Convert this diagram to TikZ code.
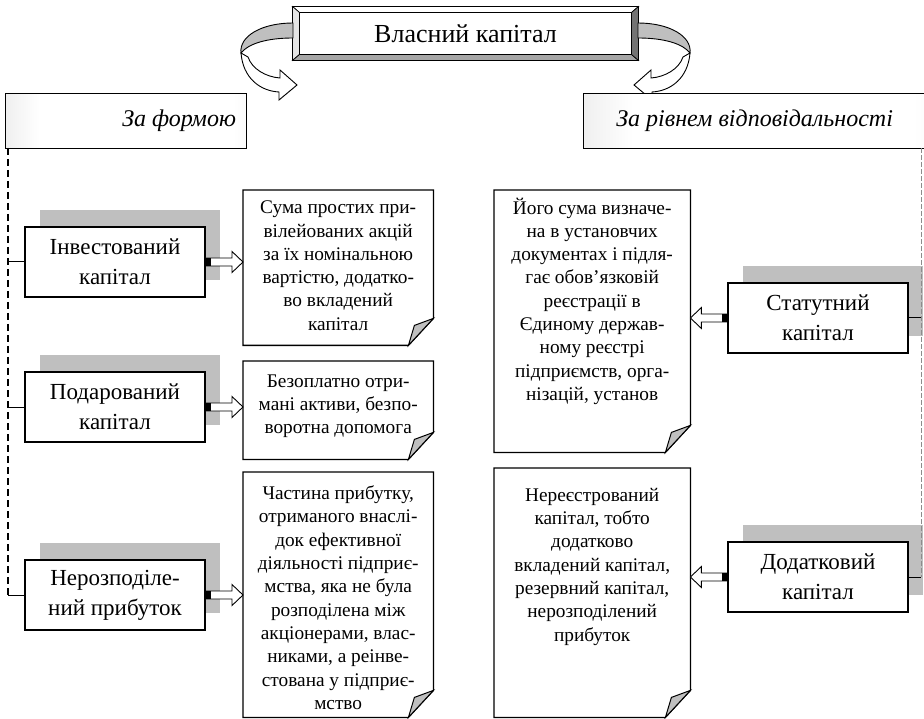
\documentclass[tikz,border=0pt]{standalone}
\usepackage{fontspec}
\setmainfont{Liberation Serif}
\usetikzlibrary{calc,shadows,positioning}
\pgfdeclarehorizontalshading{hdrshade}{100bp}{color(0bp)=(black!28); color(32bp)=(white); color(72bp)=(white); color(100bp)=(black!14)}
\tikzset{
  kbox/.style={draw, line width=1.2pt, fill=white, minimum width=180pt, minimum height=70pt, inner sep=2pt, align=center, font=\fontsize{23}{30}\selectfont},
  shd/.style={kbox, drop shadow={shadow xshift=15pt, shadow yshift=17pt, fill=black!25, opacity=1}},
  hdr/.style={draw, line width=1.2pt, minimum height=55pt, inner sep=0pt, anchor=north west, shading=hdrshade},
  hdrtxt/.style={font=\fontsize{24}{27}\selectfont\itshape},
  notebox/.style={minimum width=196pt, inner sep=0pt, anchor=north west},
  notetxt/.style={align=center, inner sep=0pt, font=\fontsize{19.3}{23.3}\selectfont},
  stub/.style={line width=1pt},
  dsh/.style={line width=1.8pt, dash pattern=on 7pt off 4pt},
  bkarrow/.style={draw, line width=0.9pt, fill=white, to path={
    let \p1=(\tikztostart), \p2=(\tikztotarget), \n1={sign(\x2-\x1)}, \n2={\n1*11} in
    (\x1,{\y1+4pt}) -- ({\x2-\n2},{\y1+4pt}) -- ({\x2-\n2},{\y1+10.5pt}) -- (\x2,\y1)
    -- ({\x2-\n2},{\y1-10.5pt}) -- ({\x2-\n2},{\y1-4pt}) -- (\x1,{\y1-4pt}) -- cycle
    (\x1,\y1) node[fill=black, inner sep=0pt, minimum width=5pt, minimum height=8pt, xshift={\n1*2.5}] {}}},
}
% note frame with folded corner
\newcommand\foldnote[1]{%
  \draw[line width=1.3pt] (#1.north west) -- (#1.north east) -- ([yshift=27pt]#1.south east) -- ([xshift=-25pt]#1.south east) -- (#1.south west) -- cycle;
  \draw[line width=1pt, fill=black!25] ([xshift=-25pt]#1.south east) -- ([xshift=-19pt,yshift=20pt]#1.south east) -- ([yshift=27pt]#1.south east) -- cycle;}

\begin{document}
\begin{tikzpicture}[x=1pt,y=-1pt]
  \useasboundingbox (0,0) rectangle (924,719);

  % title with bevel
  \node[draw, line width=0.9pt, fill=white, minimum width=345pt, minimum height=53pt, font=\fontsize{26}{28}\selectfont] (own) at (465.5,33.5) {Власний капітал};
  \filldraw[line width=0.7pt, fill=white] (own.north west) -- (own.north east) -- ([shift={(-7pt,-6pt)}]own.north east) -- ([shift={(7pt,-6pt)}]own.north west) -- cycle;
  \filldraw[line width=0.7pt, fill=black!10] (own.north west) -- ([shift={(7pt,-6pt)}]own.north west) -- ([shift={(7pt,6pt)}]own.south west) -- (own.south west) -- cycle;
  \filldraw[line width=0.7pt, fill=black!35] (own.south west) -- ([shift={(7pt,6pt)}]own.south west) -- ([shift={(-7pt,6pt)}]own.south east) -- (own.south east) -- cycle;
  \filldraw[line width=0.7pt, fill=black!55] (own.north east) -- ([shift={(-7pt,-6pt)}]own.north east) -- ([shift={(-7pt,6pt)}]own.south east) -- (own.south east) -- cycle;

  % curved arrows
  \foreach \s in {1,-1} {
    \begin{scope}[shift={(465.5,0)}, xscale=\s, line width=0.9pt]
      \filldraw[fill=black!25] (-172.5,23) .. controls (-203.5,23) and (-226.5,36) .. (-224.5,53)
        .. controls (-217.5,44) and (-199.5,38) .. (-172.5,38) -- cycle;
      \filldraw[fill=white] (-224.5,53) .. controls (-222.5,78) and (-205.5,91) .. (-186.5,92)
        -- (-186.5,100) -- (-168.5,85) -- (-185.5,70) -- (-185.5,78)
        .. controls (-199.5,77) and (-213.5,69) .. (-217.5,57) -- cycle;
    \end{scope}
  }

  % headers
  \node[hdr, minimum width=241pt] (form) at (5,93) {};
  \node[hdrtxt] (tForm) at ([xshift=53pt]form.center) {За формою};
  \node[hdr, minimum width=350pt] (resp) at (583,93) {};
  \node[hdrtxt] (tResp) at ([xshift=-4pt]resp.center) {За рівнем відповідальності};

  % left column
  \node[shd] (inv) at (115,262) {Інвестований\\капітал};
  \node[shd] (pod) at (115,407) {Подарований\\капітал};
  \node[shd] (ner) at (115,595) {Нерозподіле-\\ний прибуток};

  % right column
  \node[shd] (stat) at (818,318) {Статутний\\капітал};
  \node[shd] (dod) at (818,577) {Додатковий\\капітал};

  % notes
  \node[notebox, minimum width=190pt, minimum height=155pt] (nInv) at (243,190) {};
  \node[notebox, minimum width=190pt, minimum height=98pt] (nPod) at (243,361) {};
  \node[notebox, minimum width=190pt, minimum height=245pt] (nNer) at (243,472) {};
  \node[notebox, minimum height=262pt] (nStat) at (494,190) {};
  \node[notebox, minimum height=249pt] (nDod) at (494,468) {};
  \foreach \m in {nInv,nPod,nNer,nStat,nDod} {\foldnote{\m}}

  \node[notetxt] (tInv) at ([yshift=2pt]nInv.center) {Сума простих при-\\вілейованих акцій\\за їх номінальною\\вартістю, додатко-\\во вкладений\\капітал};
  \node[notetxt] (tPod) at ([yshift=4pt]nPod.center) {Безоплатно отри-\\мані активи, безпо-\\воротна допомога};
  \node[notetxt] (tNer) at ([yshift=-3pt]nNer.center) {Частина прибутку,\\отриманого внаслі-\\док ефективної\\діяльності підприє-\\мства, яка не була\\розподілена між\\акціонерами, влас-\\никами, а реінве-\\стована у підприє-\\мство};
  \node[notetxt] (tStat) at ([yshift=20pt]nStat.center) {Його сума визначе-\\на в установчих\\документах і підля-\\гає обов’язковій\\реєстрації в\\Єдиному держав-\\ному реєстрі\\підприємств, орга-\\нізацій, установ};
  \node[notetxt] (tDod) at ([yshift=26pt]nDod.center) {Нереєстрований\\капітал, тобто\\додатково\\вкладений капітал,\\резервний капітал,\\нерозподілений\\прибуток};

  % arrows to notes
  \foreach \b/\m in {inv/nInv, pod/nPod, ner/nNer} {\draw[bkarrow] (\b.east) to (\b.east -| \m.west);}
  \foreach \b/\m in {stat/nStat, dod/nDod} {\draw[bkarrow] (\b.west) to (\b.west -| \m.east);}

  % dashed spines
  \coordinate (lTop) at (8,148);
  \coordinate (rTop) at (921,148);
  \draw[dsh] (lTop) -- (lTop |- ner.west);
  \draw[black!45, line width=0.9pt, dash pattern=on 5pt off 2pt] (rTop) -- (rTop |- dod.east);
  \foreach \b in {inv,pod,ner} {\draw[stub] (lTop |- \b.west) -- (\b.west);}
  \foreach \b in {stat,dod} {\draw[stub] (\b.east) -- (rTop |- \b.east);}
\end{tikzpicture}
\end{document}
